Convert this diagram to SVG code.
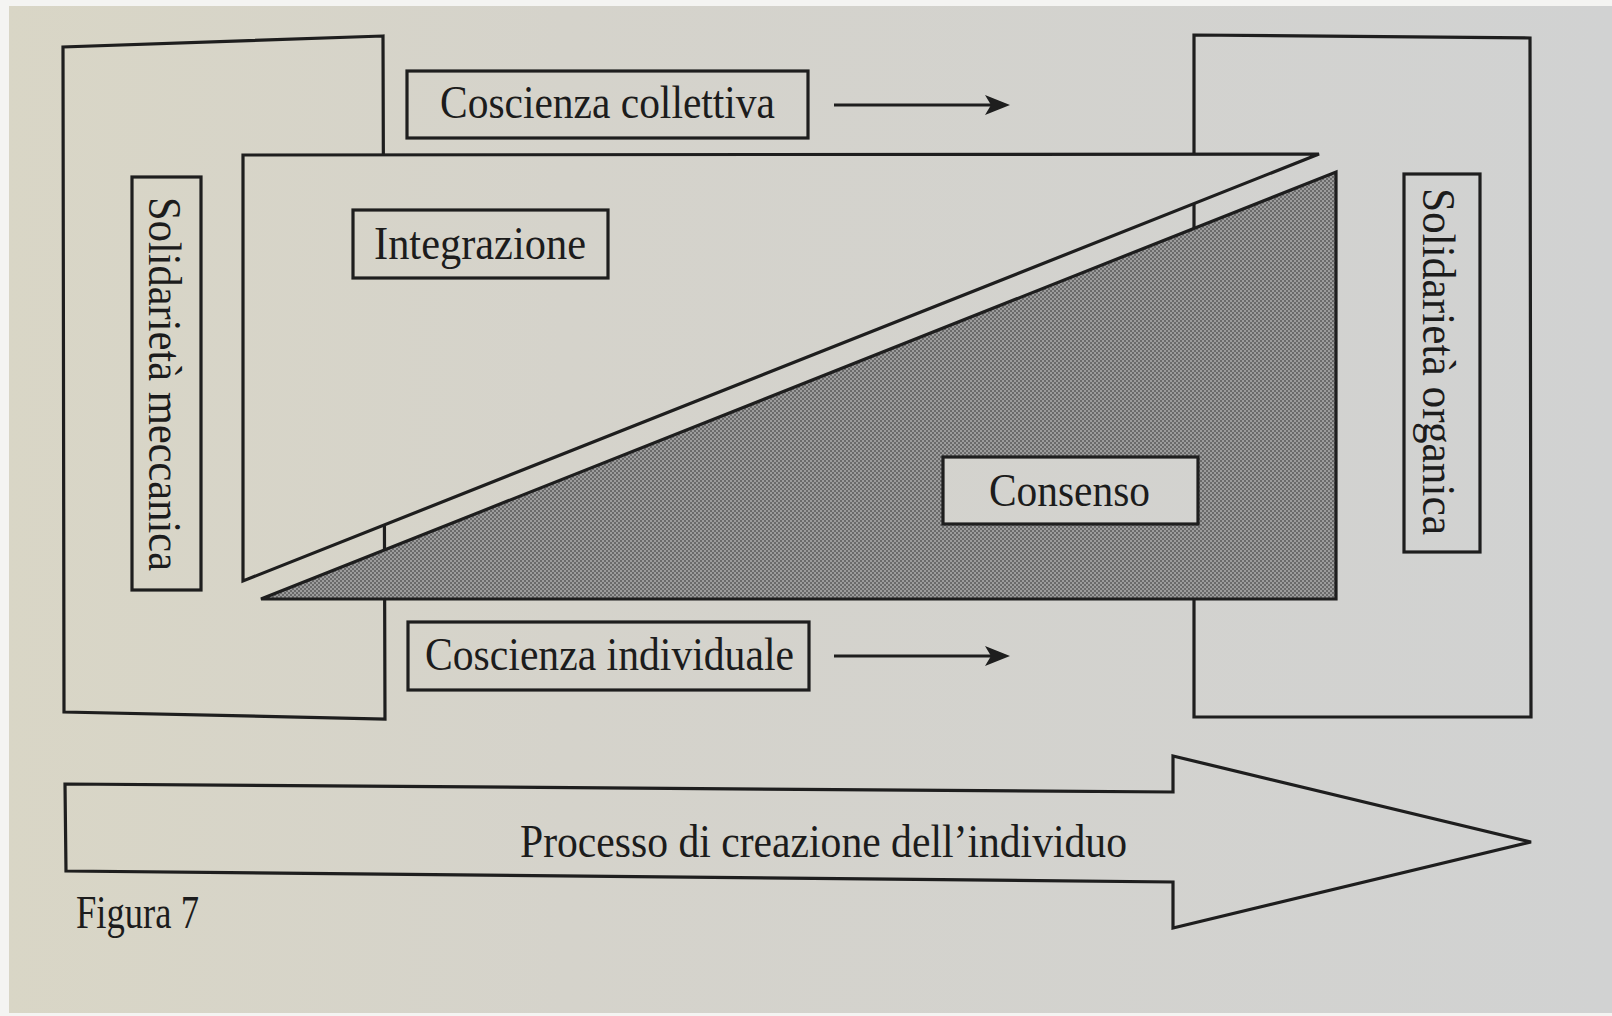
<svg xmlns="http://www.w3.org/2000/svg" width="1612" height="1016" viewBox="0 0 1612 1016">
  <style>
    .ln { fill: none; stroke: #1e1e1e; stroke-width: 3.2; stroke-linejoin: miter; }
    .box { fill: url(#paper); stroke: #1e1e1e; stroke-width: 3.2; }
    .lbl { font-family: "Liberation Serif", "DejaVu Serif", serif; font-size: 46px; fill: #1c1c1c; }
    .con { fill: none; stroke: #1e1e1e; stroke-width: 3; }
    .head { fill: #1e1e1e; stroke: none; }
  </style>
  <defs>
    <linearGradient id="paper" gradientUnits="userSpaceOnUse" x1="0" y1="0" x2="1612" y2="0">
      <stop offset="0" stop-color="#d9d6c6"/>
      <stop offset="0.35" stop-color="#d5d3cb"/>
      <stop offset="1" stop-color="#d1d2d2"/>
    </linearGradient>
    <pattern id="dots" patternUnits="userSpaceOnUse" width="4" height="4">
      <rect width="4" height="4" fill="#9c9c9c"/>
      <rect width="2" height="2" fill="#6a6a6a"/>
      <rect x="2" y="2" width="2" height="2" fill="#6a6a6a"/>
    </pattern>
  </defs>

  <rect width="1612" height="1016" fill="#f4f4f2"/>
  <rect x="9" y="6" width="1603" height="1007" fill="url(#paper)"/>

  <g id="bracket-left">
    <polygon class="ln" points="383,36 63,47 64,712 385,719"/>
  </g>
  <g id="bracket-right">
    <polygon class="ln" points="1194,35 1530,38 1531,717 1194,717"/>
  </g>

  <g id="integrazione-area">
    <polygon class="box" points="243,155 1319,154 243,581"/>
  </g>
  <g id="consenso-area">
    <polygon fill="url(#dots)" stroke="#1e1e1e" stroke-width="3.2" points="261,599 1336,599 1336,172"/>
  </g>

  <g id="solidarieta-meccanica">
    <rect class="box" x="132" y="177" width="69" height="413"/>
    <text class="lbl" transform="translate(149,197) rotate(90)" textLength="374" lengthAdjust="spacingAndGlyphs">Solidarietà meccanica</text>
  </g>
  <g id="solidarieta-organica">
    <rect class="box" x="1404" y="174" width="76" height="378"/>
    <text class="lbl" transform="translate(1423,188) rotate(90)" textLength="347" lengthAdjust="spacingAndGlyphs">Solidarietà organica</text>
  </g>

  <g id="coscienza-collettiva">
    <rect class="box" x="407" y="71" width="401" height="67"/>
    <text class="lbl" x="440" y="118" textLength="335" lengthAdjust="spacingAndGlyphs">Coscienza collettiva</text>
  </g>
  <g id="integrazione">
    <rect class="box" x="353" y="210" width="255" height="68"/>
    <text class="lbl" x="374" y="259" textLength="212" lengthAdjust="spacingAndGlyphs">Integrazione</text>
  </g>
  <g id="consenso">
    <rect class="box" x="943" y="457" width="255" height="67"/>
    <text class="lbl" x="989" y="506" textLength="161" lengthAdjust="spacingAndGlyphs">Consenso</text>
  </g>
  <g id="coscienza-individuale">
    <rect class="box" x="408" y="622" width="401" height="68"/>
    <text class="lbl" x="425" y="670" textLength="369" lengthAdjust="spacingAndGlyphs">Coscienza individuale</text>
  </g>

  <g id="processo">
    <polygon class="ln" points="65,784 1173,792 1173,756 1531,842 1173,928 1173,882 66,871"/>
    <text class="lbl" x="520" y="857" textLength="607" lengthAdjust="spacingAndGlyphs">Processo di creazione dell’individuo</text>
  </g>

  <g id="connectors">
    <line class="con" x1="834" y1="105" x2="994" y2="105"/>
    <path class="head" d="M1010,105 L985,95 L991,105 L985,115 Z"/>
    <line class="con" x1="834" y1="656" x2="994" y2="656"/>
    <path class="head" d="M1010,656 L985,646 L991,656 L985,666 Z"/>
  </g>

  <g id="caption">
    <text class="lbl" x="76" y="928" textLength="123" lengthAdjust="spacingAndGlyphs">Figura 7</text>
  </g>
</svg>
